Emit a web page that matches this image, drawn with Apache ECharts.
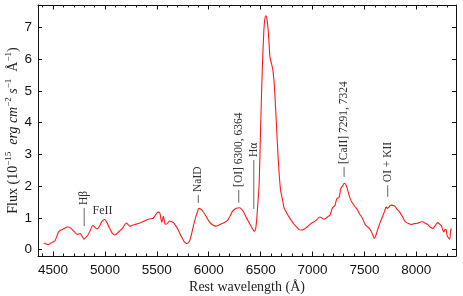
<!DOCTYPE html>
<html>
<head>
<meta charset="utf-8">
<script src="https://cdn.jsdelivr.net/npm/echarts@6/dist/echarts.min.js"></script>
<style>html,body{margin:0;padding:0;background:#fff}#c{width:463px;height:296px}</style>
</head>
<body>
<div id="c"></div>
<script>
// Rest wavelength (Å)
const wave = [4410,4430,4449,4475,4497,4519,4540,4555,4594,4642,4674,4713,4739,4761,4780,4797,4815,4836,4860,4884,4905,4925,4945,4970,4997,5020,5045,5070,5094,5120,5142,5170,5190,5206,5225,5239,5260,5287,5320,5351,5380,5416,5440,5464,5485,5500,5515,5530,5540,5548,5558,5565,5572,5582,5600,5622,5645,5660,5685,5709,5730,5751,5770,5790,5815,5835,5854,5870,5887,5905,5925,5945,5965,5983,6005,6032,6064,6090,6112,6140,6160,6180,6192,6210,6225,6250,6275,6299,6320,6340,6360,6376,6400,6419,6432,6441,6452,6462,6473,6486,6500,6516,6531,6540,6550,6560,6570,6580,6590,6605,6615,6629,6645,6661,6677,6693,6709,6725,6741,6760,6773,6800,6821,6845,6870,6890,6903,6930,6951,6983,7015,7045,7063,7079,7100,7118,7140,7169,7192,7214,7234,7256,7272,7289,7305,7320,7335,7353,7370,7386,7410,7434,7450,7473,7490,7505,7525,7547,7565,7580,7595,7610,7627,7650,7676,7695,7708,7720,7731,7745,7763,7780,7795,7815,7837,7855,7869,7885,7901,7925,7950,7980,8014,8040,8063,8085,8111,8130,8159,8180,8207,8225,8240,8255,8266,8278,8288,8296,8304,8321,8330,8337];
// Flux (1e-15 erg cm^-2 s^-1 Å^-1)
const flux = [0.21,0.18,0.16,0.20,0.24,0.28,0.45,0.57,0.64,0.72,0.67,0.53,0.48,0.51,0.42,0.33,0.38,0.46,0.62,0.76,0.70,0.65,0.72,0.88,0.95,0.85,0.67,0.52,0.46,0.52,0.59,0.68,0.78,0.84,0.78,0.74,0.76,0.79,0.82,0.86,0.90,0.96,0.97,0.99,1.08,1.15,1.18,1.14,0.95,0.86,1.00,1.05,0.90,0.80,0.82,0.90,0.88,0.85,0.74,0.60,0.45,0.32,0.22,0.19,0.27,0.50,0.77,0.97,1.15,1.30,1.27,1.20,1.10,1.00,0.88,0.79,0.74,0.76,0.80,0.84,0.87,0.92,0.98,1.08,1.19,1.27,1.31,1.32,1.26,1.16,1.02,0.93,0.78,0.67,0.60,0.58,0.66,0.95,1.45,2.10,3.90,5.70,6.90,7.25,7.36,7.28,7.00,6.55,6.05,5.85,5.70,5.30,4.40,3.35,2.45,1.85,1.60,1.32,1.22,1.10,1.03,0.90,0.80,0.72,0.63,0.62,0.62,0.67,0.72,0.82,0.88,0.95,1.02,1.02,0.97,0.96,1.02,1.09,1.32,1.38,1.60,1.65,1.92,2.00,2.09,2.05,1.92,1.70,1.55,1.46,1.35,1.25,1.14,1.03,0.92,0.80,0.73,0.67,0.58,0.47,0.35,0.45,0.62,0.85,1.05,1.22,1.35,1.30,1.32,1.38,1.40,1.39,1.36,1.27,1.19,1.10,1.03,0.92,0.86,0.82,0.79,0.82,0.83,0.87,0.88,0.83,0.79,0.72,0.67,0.75,0.85,0.80,0.76,0.62,0.56,0.64,0.62,0.45,0.40,0.33,0.58,0.67];
const xTickLabels = [4500,5000,5500,6000,6500,7000,7500,8000];
const xMinorTicks = [4400,4500,4600,4700,4800,4900,5000,5100,5200,5300,5400,5500,5600,5700,5800,5900,6000,6100,6200,6300,6400,6500,6600,6700,6800,6900,7000,7100,7200,7300,7400,7500,7600,7700,7800,7900,8000,8100,8200,8300];
const yTickLabels = [0,1,2,3,4,5,6,7];
// line identifications
const annoLabels = ['H\u03b2','NaID','[OI] 6300, 6364','H\u03b1','[CaII] 7291, 7324','OI + KII'];
const annoWave = [4800,5899,6289,6434,7304,7724];
const annoLow = [0.74,1.47,1.48,1.28,2.29,1.66];
const annoHigh = [1.31,1.72,1.88,2.82,2.60,2.03];
const sideLabel = ['FeII'];
const sideWave = [4881];
const sideFlux = [1.21];

const XMIN = 4355, XMAX = 8382, YMIN = -0.2, YMAX = 7.7;
const serif = '"Liberation Serif", "DejaVu Serif", serif';
const sans = '"Liberation Sans", Arial, sans-serif';

function xAx(pos, vals, len, labels, line) {
  return {
    type: 'value', position: pos, min: XMIN, max: XMAX,
    axisLine: { show: line, onZero: false, lineStyle: { color: '#111', width: 1 } },
    axisTick: { show: true, inside: true, length: len, customValues: vals, lineStyle: { color: '#111', width: 1 } },
    axisLabel: labels ? { show: true, customValues: xTickLabels, formatter: v => String(v), color: '#111', fontFamily: sans, fontSize: 13.5, margin: 7 } : { show: false },
    splitLine: { show: false }
  };
}
function yAx(pos, labels) {
  return {
    type: 'value', position: pos, min: YMIN, max: YMAX,
    axisLine: { show: true, onZero: false, lineStyle: { color: '#111', width: 1 } },
    axisTick: { show: true, inside: true, length: 4, customValues: yTickLabels, lineStyle: { color: '#111', width: 1 } },
    axisLabel: labels ? { show: true, customValues: yTickLabels, formatter: v => String(v), color: '#111', fontFamily: sans, fontSize: 13.5, margin: 6 } : { show: false },
    splitLine: { show: false }
  };
}

const xAxes = [xAx('bottom', xTickLabels, 4.5, true, true), xAx('bottom', xMinorTicks, 2.5, false, false), xAx('top', xTickLabels, 4.5, false, true), xAx('top', xMinorTicks, 2.5, false, false)];
xAxes[0].name = 'Rest wavelength (\u00c5)';
xAxes[0].nameLocation = 'middle';
xAxes[0].nameGap = 24;
xAxes[0].nameMoveOverlap = false;
xAxes[0].nameTextStyle = { fontFamily: serif, fontSize: 14, color: '#222' };

const yAxes = [yAx('left', true), yAx('right', false)];
yAxes[0].name = '{a|Flux (10}{s|\u221215}{i|  erg cm}{s|\u22122}{i| s}{s|\u22121}{a|  \u00c5}{s|\u22121}{a|)}';
yAxes[0].nameLocation = 'middle';
yAxes[0].nameGap = 16;
yAxes[0].nameMoveOverlap = false;
yAxes[0].nameTextStyle = {
  rich: {
    a: { fontFamily: serif, fontSize: 14, color: '#222', lineHeight: 18 },
    i: { fontFamily: serif, fontSize: 14, fontStyle: 'italic', color: '#222', lineHeight: 18 },
    s: { fontFamily: serif, fontSize: 9, color: '#222', lineHeight: 11, verticalAlign: 'top' }
  }
};

const chart = echarts.init(document.getElementById('c'), null, { renderer: 'canvas' });
chart.setOption({
  animation: false,
  backgroundColor: '#fff',
  grid: { left: 38, right: 7, top: 5, bottom: 40, containLabel: false, outerBoundsMode: 'none' },
  xAxis: xAxes,
  yAxis: yAxes,
  series: [
    {
      type: 'line', xAxisIndex: 0, yAxisIndex: 0,
      data: wave.map((w, i) => [w, flux[i]]),
      showSymbol: false, smooth: 0.25,
      lineStyle: { color: '#ff1a1a', width: 1.1 }
    },
    {
      type: 'custom', xAxisIndex: 0, yAxisIndex: 0,
      data: annoWave.map((w, i) => [w, annoLow[i], annoHigh[i]]),
      encode: { x: 0, y: [1, 2] },
      renderItem: function (params, api) {
        const i = params.dataIndex;
        const p1 = api.coord([api.value(0), api.value(1)]);
        const p2 = api.coord([api.value(0), api.value(2)]);
        return {
          type: 'group',
          children: [
            { type: 'line', shape: { x1: p1[0], y1: p1[1], x2: p2[0], y2: p2[1] }, style: { stroke: '#555', lineWidth: 0.9 } },
            { type: 'text', x: p2[0], y: p2[1] - 3, rotation: Math.PI / 2,
              style: { text: annoLabels[i], fill: '#333', font: '11.5px ' + serif, align: 'left', verticalAlign: 'middle' } }
          ]
        };
      },
      silent: true, z: 5
    },
    {
      type: 'custom', xAxisIndex: 0, yAxisIndex: 0,
      data: sideWave.map((w, i) => [w, sideFlux[i]]),
      encode: { x: 0, y: 1 },
      renderItem: function (params, api) {
        const p = api.coord([api.value(0), api.value(1)]);
        return { type: 'text', x: p[0], y: p[1],
          style: { text: sideLabel[params.dataIndex], fill: '#333', font: '12px ' + serif, align: 'left', verticalAlign: 'middle' } };
      },
      silent: true, z: 5
    }
  ]
});
</script>
</body>
</html>
